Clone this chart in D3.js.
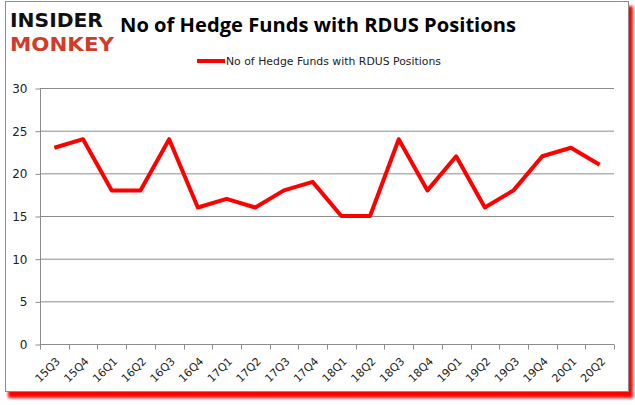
<!DOCTYPE html>
<html>
<head>
<meta charset="utf-8">
<script src="https://cdn.jsdelivr.net/npm/d3@7"></script>
<style>
body { margin: 0; background: #fff; }
svg { display: block; }
</style>
</head>
<body>
<script>
// quarters and number of hedge funds holding RDUS
var quarters = ["15Q3","15Q4","16Q1","16Q2","16Q3","16Q4","17Q1","17Q2","17Q3","17Q4",
	"18Q1","18Q2","18Q3","18Q4","19Q1","19Q2","19Q3","19Q4","20Q1","20Q2"];
var funds = [23,24,18,18,24,16,17,16,18,19,15,15,24,18,22,16,18,22,23,21];
var yTicks = [0,5,10,15,20,25,30];
var seriesName = "No of Hedge Funds with RDUS Positions";

var svg = d3.select("body").append("svg")
	.attr("width", 635)
	.attr("height", 405);

// drop shadow for the frame
var defs = svg.append("defs");
var blur = defs.append("filter").attr("id", "shadow")
	.attr("x", "-5%").attr("y", "-5%").attr("width", "110%").attr("height", "115%");
blur.append("feGaussianBlur").attr("stdDeviation", 1.5);

svg.append("rect")
	.attr("x", 8).attr("y", 6).attr("width", 625).attr("height", 392)
	.attr("fill", "#ff0000")
	.attr("filter", "url(#shadow)");
svg.append("rect")
	.attr("x", 5.5).attr("y", 1.5).attr("width", 623).attr("height", 390)
	.attr("fill", "#fff")
	.attr("stroke", "#8c8c8c")
	.attr("stroke-width", 1);

// logo
svg.append("text")
	.attr("x", 10).attr("y", 27)
	.attr("font-family", "DejaVu Sans")
	.attr("font-weight", "bold")
	.attr("font-size", 20)
	.attr("textLength", 93)
	.attr("lengthAdjust", "spacingAndGlyphs")
	.attr("fill", "#111")
	.text("INSIDER");
svg.append("text")
	.attr("x", 10).attr("y", 51)
	.attr("font-family", "DejaVu Sans")
	.attr("font-weight", "bold")
	.attr("font-size", 20)
	.attr("textLength", 104)
	.attr("lengthAdjust", "spacingAndGlyphs")
	.attr("fill", "#d23b2a")
	.text("MONKEY");

// title
svg.append("text")
	.attr("x", 318).attr("y", 32)
	.attr("text-anchor", "middle")
	.attr("font-family", "Open Sans")
	.attr("font-weight", "bold")
	.attr("font-size", 20)
	.attr("textLength", 396)
	.attr("lengthAdjust", "spacingAndGlyphs")
	.attr("fill", "#000")
	.text("No of Hedge Funds with RDUS Positions");

var margin = {left: 40, right: 21, top: 88, bottom: 61};
var width = 635 - margin.left - margin.right;
var height = 405 - margin.top - margin.bottom;

var g = svg.append("g").attr("transform", "translate(" + margin.left + "," + margin.top + ")");

var xScale = d3.scaleBand().domain(quarters).range([0, width]);
var yScale = d3.scaleLinear().domain([0, 30]).range([height, 0]);

// gridlines
g.append("g").selectAll("line")
	.data(yTicks.filter(function(d){ return d > 0; }))
	.enter().append("line")
	.attr("x1", 0).attr("x2", width)
	.attr("y1", function(d){ return yScale(d) + 0.5; })
	.attr("y2", function(d){ return yScale(d) + 0.5; })
	.attr("stroke", "#8c8c8c");

// y axis
var yAxis = g.append("g")
	.attr("transform", "translate(0.5,0.5)")
	.call(d3.axisLeft(yScale).tickValues(yTicks).tickSize(5).tickPadding(8));
yAxis.select(".domain").attr("stroke", "#8c8c8c").attr("d", "M0," + height + "V0");
yAxis.selectAll(".tick line").attr("stroke", "#8c8c8c");
yAxis.selectAll("text")
	.attr("font-family", "DejaVu Sans")
	.attr("font-size", 12)
	.attr("fill", "#222");

// x axis, ticks on band boundaries
var xAxis = g.append("g")
	.attr("transform", "translate(0," + (height + 0.5) + ")");
xAxis.append("line")
	.attr("x1", 0).attr("x2", width)
	.attr("stroke", "#8c8c8c");
xAxis.selectAll(".tk")
	.data(quarters.concat(["end"]))
	.enter().append("line")
	.attr("class", "tk")
	.attr("x1", function(d, i){ return Math.round(i * xScale.step()) + 0.5; })
	.attr("x2", function(d, i){ return Math.round(i * xScale.step()) + 0.5; })
	.attr("y1", 0).attr("y2", 5)
	.attr("stroke", "#8c8c8c");
xAxis.selectAll(".lbl")
	.data(quarters)
	.enter().append("text")
	.attr("class", "lbl")
	.attr("transform", function(d){
		return "translate(" + (xScale(d) + xScale.bandwidth() / 2 + 1) + ",12) rotate(-45)";
	})
	.attr("text-anchor", "end")
	.attr("dy", "0.7em")
	.attr("font-family", "DejaVu Sans")
	.attr("font-size", 11)
	.attr("fill", "#222")
	.text(function(d){ return d; });

// line
var line = d3.line()
	.x(function(d, i){ return xScale(quarters[i]) + xScale.bandwidth() / 2; })
	.y(function(d){ return yScale(d); });
g.append("path")
	.datum(funds)
	.attr("d", line)
	.attr("fill", "none")
	.attr("stroke", "#ff0000")
	.attr("stroke-width", 4)
	.attr("stroke-linejoin", "round");

// legend
var legend = svg.append("g").attr("transform", "translate(197,61)");
legend.append("line")
	.attr("x1", 0).attr("x2", 28)
	.attr("stroke", "#ff0000")
	.attr("stroke-width", 4);
legend.append("text")
	.attr("x", 29).attr("y", 4)
	.attr("font-family", "DejaVu Sans")
	.attr("font-size", 10.5)
	.attr("textLength", 215)
	.attr("lengthAdjust", "spacingAndGlyphs")
	.attr("fill", "#222")
	.text(seriesName);
</script>
</body>
</html>
